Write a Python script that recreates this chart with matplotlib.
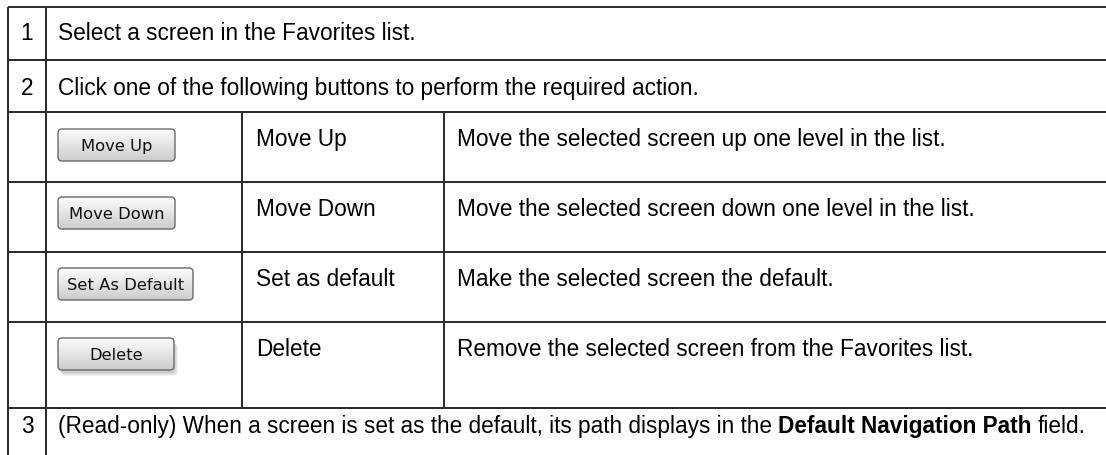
import numpy as np
import matplotlib
matplotlib.use('Agg')
from matplotlib import pyplot as plt
from matplotlib.patches import FancyBboxPatch

# table content
step_nums = ['1', '2', '3']
step_texts = ['Select a screen in the Favorites list.',
              'Click one of the following buttons to perform the required action.']
button_labels = ['Move Up', 'Move Down', 'Set As Default', 'Delete']
button_names = ['Move Up', 'Move Down', 'Set as default', 'Delete']
button_descs = ['Move the selected screen up one level in the list.',
                'Move the selected screen down one level in the list.',
                'Make the selected screen the default.',
                'Remove the selected screen from the Favorites list.']
last_parts = ['(Read-only) When a screen is set as the default, its path displays in the',
              'Default Navigation Path',
              'field.']
last_weights = ['normal', 'bold', 'normal']

# layout (pixels)
W, H = 1106, 456
row_edges = [8, 61, 113, 183, 253, 323, 409]
col_x = [8, 46, 242, 444]
btn_widths = [117, 117, 135, 116]
btn_tops = [130, 198, 269, 339]
btn_h = 32
fs = 16.3
line_c = '#2e2e2e'
lw = 1.45

fig = plt.figure(figsize=(W / 100, H / 100), dpi=100)
ax = fig.add_axes([0, 0, 1, 1])
ax.set_xlim(0, W)
ax.set_ylim(H, 0)
ax.axis('off')

# grid lines
for y in row_edges:
    ax.plot([col_x[0], W], [y, y], color=line_c, lw=lw, solid_capstyle='butt')
for x in col_x[:2]:
    ax.plot([x, x], [row_edges[0], H], color=line_c, lw=lw, solid_capstyle='butt')
for x in col_x[2:]:
    ax.plot([x, x], [row_edges[2], row_edges[-1]], color=line_c, lw=lw, solid_capstyle='butt')

font = dict(family=['Liberation Sans', 'DejaVu Sans'], fontsize=fs, color='#000000')
num_x = (col_x[0] + col_x[1]) / 2
text_x = 58

# numbered rows
ax.text(num_x, row_edges[0] + 32, step_nums[0], ha='center', va='baseline', **font)
ax.text(text_x, row_edges[0] + 32, step_texts[0], ha='left', va='baseline', **font)
ax.text(num_x, row_edges[1] + 34, step_nums[1], ha='center', va='baseline', **font)
ax.text(text_x, row_edges[1] + 34, step_texts[1], ha='left', va='baseline', **font)

# button rows
grad = np.linspace(0, 1, 64)
top_c = np.array([0.99, 0.99, 0.99])
bot_c = np.array([0.80, 0.80, 0.80])
gimg = (top_c[None, :] * (1 - grad[:, None]) + bot_c[None, :] * grad[:, None])[:, None, :]

for i in range(len(button_labels)):
    top = row_edges[i + 2]
    base = top + 33
    bx, by, bw = text_x, btn_tops[i], btn_widths[i]
    if button_labels[i] == 'Delete':
        for k in range(4):
            sh = FancyBboxPatch((bx + 1 + k, by + 3 + k), bw, btn_h,
                                boxstyle='round,pad=0,rounding_size=4',
                                fc='#000000', ec='none', alpha=0.05)
            ax.add_patch(sh)
    patch = FancyBboxPatch((bx, by), bw, btn_h, boxstyle='round,pad=0,rounding_size=4',
                           fc='none', ec='#6a6a6a', lw=1.0, zorder=3)
    ax.add_patch(patch)
    im = ax.imshow(gimg, extent=(bx, bx + bw, by + btn_h, by), origin='upper',
                   aspect='auto', zorder=2, interpolation='bilinear')
    im.set_clip_path(patch)
    ax.text(bx + bw / 2, by + btn_h / 2 + 1, button_labels[i], ha='center', va='center',
            family='DejaVu Sans', fontsize=11.8, color='#111111', zorder=4)
    ax.text(256, base, button_names[i], ha='left', va='baseline', **font)
    ax.text(457, base, button_descs[i], ha='left', va='baseline', **font)

# last row with bold field name
ax.set_xlim(0, W)
ax.set_ylim(H, 0)
base = row_edges[-1] + 24
ax.text(num_x, base, step_nums[2], ha='center', va='baseline', **font)
renderer = fig.canvas.get_renderer()
space_w = 0.278 * fs * 100 / 72
x = text_x
for part, wt in zip(last_parts, last_weights):
    t = ax.text(x, base, part, ha='left', va='baseline', fontweight=wt, **font)
    bb = t.get_window_extent(renderer=renderer)
    x += bb.width + space_w

fig.savefig('out.png', dpi=100)
